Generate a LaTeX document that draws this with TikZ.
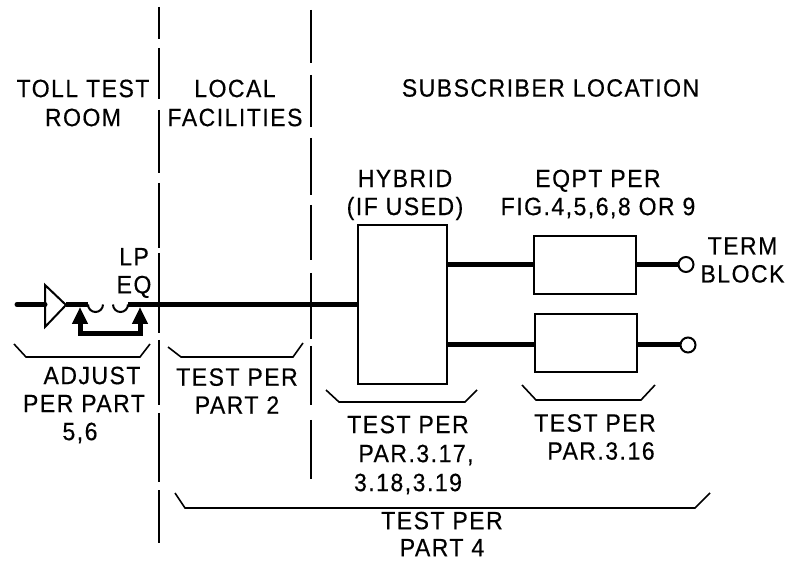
\documentclass[tikz,border=0pt]{standalone}
\usepackage{fontspec}
\setmainfont{Liberation Sans}
\usetikzlibrary{arrows.meta,positioning,calc}
\newfontfamily\labelfont[LetterSpace=6,FakeStretch=0.92,FakeBold=0.4]{Liberation Sans}
\begin{document}
\begin{tikzpicture}[
  x=1pt,y=-1pt,
  font=\labelfont\fontsize{25}{28}\selectfont,
  lbl/.style={align=center,inner sep=0pt},
  unit/.style={draw,line width=2pt,minimum width=102pt,minimum height=58pt,inner sep=0pt},
  hyb/.style={draw,line width=2pt,minimum width=89pt,minimum height=159pt,inner sep=0pt},
  wire/.style={line width=5pt},
  bound/.style={line width=2.5pt},
  brace/.style={line width=1.6pt},
  term/.style={circle,draw,line width=2pt,fill=white,minimum size=15pt,inner sep=0pt},
  ar/.style={-{Triangle[length=17pt,width=15pt]},line width=5pt}]
\useasboundingbox (0,0) rectangle (785,561);
% area boundaries
\foreach \ya/\yb in {7/39,48/99,110/173,183/248,253/333,340/405,413/482,490/543}
  \draw[bound] (159,\ya) -- (159,\yb);
\foreach \ya/\yb in {10/63,75/127,138/195,205/260,273/339,346/405,420/479}
  \draw[bound] (311,\ya) -- (311,\yb);
% area headings
\node[lbl] (toll) at (83,103) {TOLL TEST\\[1pt]ROOM};
\node[lbl] (local) at (235,103) {LOCAL\\[1pt]FACILITIES};
\node[lbl] (subs) at (550.5,88) {SUBSCRIBER LOCATION};
% equipment
\node[hyb] (hybrid) at (402.5,304.5) {};
\node[unit] (eqa) at (584.5,265) {};
\node[unit] (eqb) at (586,343.5) {};
\node[lbl] (hyblab) at (405,195) {HYBRID\\(IF USED)};
\node[lbl] (eqlab) at (598,194) {EQPT PER\\FIG.4,5,6,8 OR 9};
\node[term] (ta) at (686,264.5) {};
\node[term] (tb) at (688,345) {};
\node[lbl] (termlab) at (742.5,260) {TERM\\BLOCK};
\node[lbl] (lpeq) at (134,273) {LP\\EQ};
% amplifier
\draw[line width=2pt] (45,285) -- (45,327) -- (66,305) -- cycle;
\coordinate (lineW) at (17,304.5);
\coordinate (ampin) at (45,304.5);
\coordinate (ampout) at (66,304.5);
\coordinate (coilA) at (88,304.5);
\coordinate (coilB) at (128,304.5);
\draw[wire,line cap=round] (lineW) -- (ampin);
\draw[wire] (ampout) -- (coilA);
\draw[line width=2pt] (coilA) arc[start angle=180,end angle=360,radius=7.5pt];
\draw[line width=2pt] (113,304.5) arc[start angle=180,end angle=360,radius=7.5pt];
\draw[wire] (coilB) -- (hybrid.west);
\draw[wire] (hybrid.east |- ta) -- (eqa.west |- ta);
\draw[wire] (eqa.east |- ta) -- (ta);
\draw[wire] (hybrid.east |- tb) -- (eqb.west |- tb);
\draw[wire] (eqb.east |- tb) -- (tb);
% adjusting arrows
\coordinate (arA) at (80,334);
\coordinate (arB) at (140,334);
\draw[ar] (arA) -- (80,307);
\draw[ar] (arB) -- (140,307);
\draw[line width=5pt,line cap=rect] (arA) -- (arB);
% braces and notes
\draw[brace] (14,344) -- (26,357) -- (140,357) -- (150,344);
\draw[brace] (168,347) -- (181,357) -- (293,357) -- (303,343);
\draw[brace] (326,390) -- (339,402) -- (465,402) -- (477,390);
\draw[brace] (522,385) -- (536,400) -- (641,400) -- (655,385);
\draw[brace] (175,493) -- (185,508) -- (695,508) -- (710,493);
\node[lbl] (adj) at (84,405) {\hspace*{16pt}ADJUST\\PER PART\\5,6\hspace*{8pt}};
\node[lbl] (pt2) at (237,391) {TEST PER\\PART 2};
\node[lbl] (hybtest) at (408,455) {TEST PER\\[1pt]\hspace*{16pt}PAR.3.17,\\[1pt]3.18,3.19};
\node[lbl] (eqtest) at (595,437) {TEST PER\\\hspace*{12pt}PAR.3.16};
\node[lbl] (pt4) at (442,534) {TEST PER\\[-1pt]PART 4};
\end{tikzpicture}
\end{document}
